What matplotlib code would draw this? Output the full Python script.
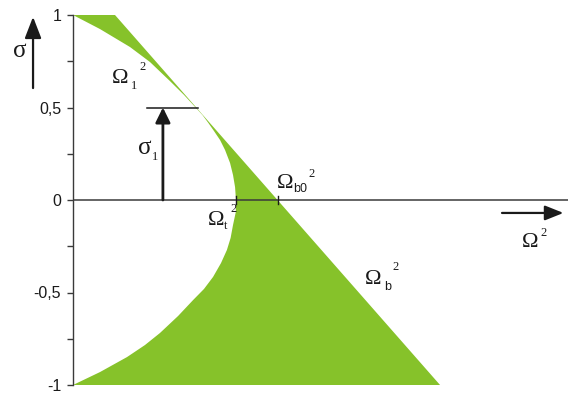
import numpy as np
import matplotlib
matplotlib.use("Agg")
import matplotlib.pyplot as plt
from matplotlib.ticker import FixedLocator, FixedFormatter

# --- data -------------------------------------------------------------
# left boundary of the stable region, Omega_t^2(sigma)
sigma_t = [1.0, 0.924, 0.827, 0.746, 0.643, 0.568, 0.503, 0.459, 0.416,
           0.373, 0.324, 0.270, 0.200, 0.135, 0.070, 0.0, -0.065, -0.135,
           -0.205, -0.270, -0.341, -0.416, -0.481, -0.541, -0.627, -0.719,
           -0.784, -0.849, -0.930, -1.0]
omega_t = [0.0, 0.146, 0.308, 0.416, 0.524, 0.600, 0.660, 0.700, 0.732,
           0.762, 0.795, 0.822, 0.849, 0.865, 0.876, 0.881, 0.880, 0.865,
           0.852, 0.832, 0.800, 0.757, 0.708, 0.649, 0.568, 0.470, 0.389,
           0.292, 0.146, 0.0]
# right boundary, Omega_b^2(sigma): straight line between its end points
sigma_b = [1.0, -1.0]
omega_b = [0.227, 1.984]

sigma_1 = 0.5
omega_t0 = 0.881
omega_b0 = float(np.interp(0.0, sigma_b[::-1], omega_b[::-1]))

y_ticks = [-1.0, -0.5, 0.0, 0.5, 1.0]
y_tick_labels = ["-1", "-0,5", "0", "0,5", "1"]
y_minor = [-0.75, -0.25, 0.25, 0.75]

GREEN = "#86c22a"
AXIS = "#3a3a3a"
INK = "#1a1a1a"
SERIF = "Liberation Serif"
SANS = "Liberation Sans"

# --- figure -----------------------------------------------------------
fig = plt.figure(figsize=(5.68, 3.94), dpi=100)
ax = fig.add_axes([0, 0, 1, 1])
ax.set_xlim(-73 / 185, (568 - 73) / 185)
ax.set_ylim((200 - 394) / 185, 200 / 185)

# shaded region between Omega_t^2 and Omega_b^2
poly_x = list(omega_b) + omega_t[::-1]
poly_y = list(sigma_b) + sigma_t[::-1]
ax.fill(poly_x, poly_y, color=GREEN, lw=0, zorder=1)

# axes
for s in ["top", "right", "bottom"]:
    ax.spines[s].set_visible(False)
ax.spines["left"].set_position(("data", 0))
ax.spines["left"].set_bounds(-1, 1)
ax.spines["left"].set_color(AXIS)
ax.spines["left"].set_linewidth(1.0)
ax.xaxis.set_visible(False)
ax.yaxis.set_major_locator(FixedLocator(y_ticks))
ax.yaxis.set_major_formatter(FixedFormatter(y_tick_labels))
ax.yaxis.set_minor_locator(FixedLocator(y_minor))
ax.tick_params(axis="y", which="both", direction="out", length=4.5,
               width=1.0, color=AXIS, pad=4)
ax.tick_params(axis="y", which="major", labelsize=11.5, labelcolor=INK)
for lab in ax.get_yticklabels():
    lab.set_fontfamily(SANS)

ax.plot([0, ax.get_xlim()[1]], [0, 0], color=AXIS, lw=1.1, zorder=3,
        solid_capstyle="butt")
for xv in (omega_t0, omega_b0):
    ax.plot([xv, xv], [-0.022, 0.022], color=INK, lw=1.0, zorder=3)

# arrows
def arrow(tail, tip, scale, hl, hw, lw):
    ax.annotate("", xy=tip, xytext=tail, zorder=4,
                arrowprops=dict(arrowstyle=f"-|>,head_length={hl},head_width={hw}",
                                color=INK, lw=lw, mutation_scale=scale,
                                shrinkA=0, shrinkB=0))

arrow((-0.216, 0.605), (-0.216, 0.99), 14, 0.93, 0.36, 1.6)
arrow((2.319, -0.070), (2.651, -0.070), 14, 0.8, 0.32, 1.6)
arrow((0.486, 0.0), (0.486, sigma_1), 12, 0.75, 0.37, 2.0)
ax.plot([0.40, 0.676], [sigma_1, sigma_1], color=INK, lw=1.1, zorder=3)

# labels
def label(x, y, main, sub=None, sub_dx=0, sub_dy=-4, sup=None, sup_dx=0,
          sup_dy=9, size=16, sub_family=SERIF):
    ax.text(x, y, main, family=SERIF, size=size, color=INK,
            ha="left", va="baseline", zorder=5)
    if sub:
        ax.annotate(sub, (x, y), xytext=(sub_dx, sub_dy),
                    textcoords="offset points", family=sub_family, size=9,
                    color=INK, ha="left", va="baseline", zorder=5)
    if sup:
        ax.annotate(sup, (x, y), xytext=(sup_dx, sup_dy),
                    textcoords="offset points", family=SERIF, size=9,
                    color=INK, ha="left", va="baseline", zorder=5)

def px(xp, yp):
    return (xp - 73) / 185, (200 - yp) / 185

label(*px(112, 83), "\u03a9", "1", 13.5, -4, "2", 19.5, 9)
label(*px(208, 225), "\u03a9", "t", 11.5, -3, "2", 16, 9.5)
label(*px(277, 188), "\u03a9", "b0", 11.5, -3, "2", 22.5, 8, sub_family=SANS)
label(*px(365, 284), "\u03a9", "b", 14, -4, "2", 19.5, 10, sub_family=SANS)
label(*px(522, 247), "\u03a9", None, 0, 0, "2", 13.5, 8)
label(*px(13, 57), "\u03c3", size=18)
label(*px(138, 154), "\u03c3", "1", 10, -4, size=18)

fig.savefig("out.png", dpi=100)
